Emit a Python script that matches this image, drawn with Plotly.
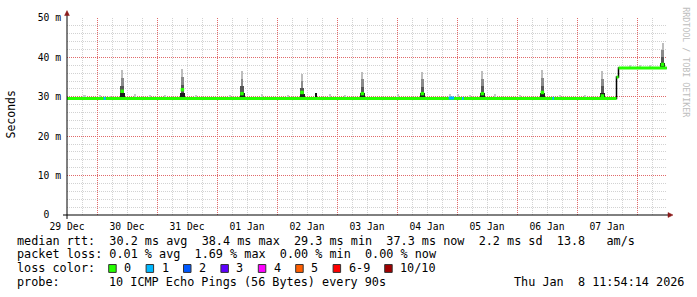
import plotly.graph_objects as go
from datetime import datetime, timedelta

# ---------------- data ----------------
t_start = "2025-12-29 12:00"
t_end = "2026-01-08 12:00"

# x tick labels (centred on noon of each day)
x_label_time = ["2025-12-29 12:00", "2025-12-30 12:00", "2025-12-31 12:00", "2026-01-01 12:00",
                "2026-01-02 12:00", "2026-01-03 12:00", "2026-01-04 12:00", "2026-01-05 12:00",
                "2026-01-06 12:00", "2026-01-07 12:00"]
x_label_text = ["29 Dec", "30 Dec", "31 Dec", "01 Jan", "02 Jan", "03 Jan", "04 Jan", "05 Jan",
                "06 Jan", "07 Jan"]

# median rtt (step series, ms)
median_time = ["2025-12-29 12:00", "2026-01-07 15:48", "2026-01-07 16:36", "2026-01-08 11:54:14"]
median_ms = [29.55, 35.0, 37.3, 37.3]

# daily latency spikes (smoke)
spike_time = ["2025-12-30 10:05", "2025-12-31 10:10", "2026-01-01 10:00", "2026-01-02 10:00",
              "2026-01-03 10:10", "2026-01-04 10:10", "2026-01-05 10:10", "2026-01-06 10:10",
              "2026-01-07 10:10", "2026-01-08 10:12"]
spike_base_ms = [29.5, 29.5, 29.5, 29.5, 29.5, 29.5, 29.5, 29.5, 29.5, 37.3]
spike_top_ms = [36.8, 37.1, 36.5, 35.8, 36.3, 36.3, 36.5, 36.7, 36.5, 43.7]
spike_median_ms = [31.4, 31.8, 30.8, 31.1, 30.8, 30.8, 30.8, 31.1, 30.2, 38.2]

# small dark blip
blip_time = ["2026-01-02 15:40"]
blip_base_ms = [29.5]
blip_top_ms = [31.0]

# light smoke bits just above the median
noise_time = ["2025-12-29 19:00", "2025-12-30 01:06", "2025-12-30 05:06", "2025-12-30 15:06",
              "2025-12-30 21:06", "2025-12-31 03:06", "2025-12-31 15:30", "2026-01-01 05:06",
              "2026-01-01 17:54", "2026-01-02 04:18", "2026-01-02 21:06", "2026-01-03 03:06",
              "2026-01-04 00:18", "2026-01-04 21:06", "2026-01-05 00:18", "2026-01-05 05:06",
              "2026-01-05 15:06", "2026-01-06 01:06", "2026-01-06 17:06", "2026-01-07 03:06",
              "2026-01-07 21:06", "2026-01-08 01:06", "2026-01-08 05:06"]
noise_base_ms = [29.5, 29.5, 29.5, 29.5, 29.5, 29.5, 29.5, 29.5, 29.5, 29.5, 29.5, 29.5,
                 29.5, 29.5, 29.5, 29.5, 29.5, 29.5, 29.5, 29.5, 37.3, 37.3, 37.3]
noise_top_ms = [30.4, 30.5, 30.3, 30.7, 30.4, 30.4, 30.5, 30.4, 30.6, 30.4, 30.7, 30.5,
                30.6, 30.8, 30.7, 30.5, 30.6, 30.4, 30.4, 30.5, 38.1, 38.0, 38.1]

# periods with 1/10 packet loss
loss1_start = ["2025-12-30 02:40", "2026-01-04 20:40", "2026-01-05 02:00", "2026-01-06 14:10"]
loss1_end = ["2025-12-30 03:30", "2026-01-04 22:50", "2026-01-05 02:40", "2026-01-06 14:50"]
loss1_ms = [29.6, 29.7, 29.6, 29.6]

# y axis ticks
y_tickvals = [0, 10, 20, 30, 40, 50]
y_ticktext = ["0\u00a0\u00a0", "10 m", "20 m", "30 m", "40 m", "50 m"]

# legend / stats
rtt_stats = [30.2, 38.4, 29.3, 37.3, 2.2]
rtt_am_s = 13.8
loss_stats = [0.01, 1.69, 0.00, 0.00]
loss_labels = ["0", "1", "2", "3", "4", "5", "6-9", "10/10"]
loss_colors = ["#26ff00", "#00b8ff", "#0059ff", "#5e00ff", "#ff00ff", "#ff5e00", "#ff0000", "#a00000"]
probe_text = "10 ICMP Echo Pings (56 Bytes) every 90s"
stamp_text = "Thu Jan  8 11:54:14 2026"

# ---------------- helpers ----------------
L, R, T, B = 67, 667, 15, 215
W, H = 697, 297


def px_x(px):
    return (px - L) / (R - L)


def px_y(py):
    return (B - py) / (B - T)


def nb(s):
    return s.replace(" ", "\u00a0")


HOUR = 3600 * 1000
MONO = "DejaVu Sans Mono"

# grid positions: major at midnights, minor every 6 h in between
x_major, x_minor = [], []
d0 = datetime(2025, 12, 29)
for day in range(11):
    x_major.append((d0 + timedelta(days=day)).strftime("%Y-%m-%d %H:%M"))
    for hr in (6, 12, 18):
        x_minor.append((d0 + timedelta(days=day, hours=hr)).strftime("%Y-%m-%d %H:%M"))
y_minor = [v for v in range(0, 51, 2) if v % 10 != 0]

fig = go.Figure()

# light smoke bits
fig.add_trace(go.Bar(
    x=noise_time, base=noise_base_ms,
    y=[t - b for t, b in zip(noise_top_ms, noise_base_ms)],
    width=[0.9 * HOUR] * len(noise_time),
    marker=dict(color="#c6c6c6", line=dict(width=0)), hoverinfo="skip"))

# smoke gradient of spikes
layer_frac = [0.0, 0.2, 0.45, 0.72, 1.0]
layer_col = ["#1c1c1c", "#555555", "#8a8a8a", "#bdbdbd"]
layer_w = [2.0, 1.5, 1.1, 0.8]
for k in range(4):
    lo = [b + (t - b) * layer_frac[k] for b, t in zip(spike_base_ms, spike_top_ms)]
    hi = [b + (t - b) * layer_frac[k + 1] for b, t in zip(spike_base_ms, spike_top_ms)]
    fig.add_trace(go.Bar(
        x=spike_time, base=lo, y=[h - l for h, l in zip(hi, lo)],
        width=[layer_w[k] * HOUR] * len(spike_time),
        marker=dict(color=layer_col[k], line=dict(width=0)), hoverinfo="skip"))

fig.add_trace(go.Bar(
    x=blip_time, base=blip_base_ms,
    y=[t - b for t, b in zip(blip_top_ms, blip_base_ms)],
    width=[0.6 * HOUR], marker=dict(color="#111111", line=dict(width=0)), hoverinfo="skip"))

# median: black step (vertical jumps), then green horizontals
fig.add_trace(go.Scatter(x=median_time, y=median_ms, mode="lines",
                         line=dict(color="#000000", width=1.5, shape="hv"), hoverinfo="skip"))
gx, gy = [], []
for i in range(len(median_time) - 1):
    gx += [median_time[i], median_time[i + 1], None]
    gy += [median_ms[i], median_ms[i], None]
fig.add_trace(go.Scatter(x=gx, y=gy, mode="lines",
                         line=dict(color=loss_colors[0], width=3), hoverinfo="skip"))

bx, by = [], []
for s, e, v in zip(loss1_start, loss1_end, loss1_ms):
    bx += [s, e, None]
    by += [v, v, None]
fig.add_trace(go.Scatter(x=bx, y=by, mode="lines",
                         line=dict(color=loss_colors[1], width=3), hoverinfo="skip"))

# spike medians drawn on the label axis (matched to x) so that axis is rendered
fig.add_trace(go.Scatter(x=spike_time, y=spike_median_ms, mode="markers", xaxis="x2",
                         marker=dict(symbol="square", size=3.5, color=loss_colors[0],
                                     line=dict(width=0)), hoverinfo="skip"))

# ---------------- layout ----------------
minor_grid = "#d2d2d2"
major_grid = "#e06a6a"
dash = "1px,1px"

fig.update_layout(
    width=W, height=H,
    margin=dict(l=L, r=W - R, t=T, b=H - B, pad=0),
    paper_bgcolor="white", plot_bgcolor="white",
    showlegend=False, barmode="overlay", bargap=0,
    font=dict(family=MONO, color="#000000"),
    xaxis=dict(
        type="date", range=[t_start, t_end],
        tickmode="array", tickvals=x_major, showticklabels=False, ticks="",
        showgrid=True, gridcolor=major_grid, griddash=dash, gridwidth=1,
        minor=dict(tickmode="array", tickvals=x_minor, showgrid=True,
                   gridcolor=minor_grid, griddash=dash, gridwidth=1),
        showline=False, zeroline=False, fixedrange=True, layer="below traces",
    ),
    xaxis2=dict(
        type="date", matches="x", overlaying="x", anchor="y", side="bottom",
        tickmode="array", tickvals=x_label_time, ticktext=x_label_text,
        ticks="", ticklabelstandoff=4, showgrid=False, zeroline=False, showline=False,
        tickfont=dict(family=MONO, size=9.7, color="#000000"), fixedrange=True,
    ),
    yaxis=dict(
        range=[0, 50], tickmode="array", tickvals=y_tickvals, ticktext=y_ticktext,
        ticks="", ticklabelstandoff=5,
        tickfont=dict(family=MONO, size=9.7, color="#000000"),
        showgrid=True, gridcolor=major_grid, griddash=dash, gridwidth=1,
        minor=dict(tickmode="array", tickvals=y_minor, showgrid=True,
                   gridcolor=minor_grid, griddash=dash, gridwidth=1),
        showline=False, zeroline=False, fixedrange=True,
    ),
)

shapes = []
# axis lines with small overshoot + arrows
shapes.append(dict(type="line", xref="paper", yref="paper",
                   x0=px_x(63), x1=px_x(670), y0=px_y(215), y1=px_y(215),
                   line=dict(color="#000000", width=1)))
shapes.append(dict(type="line", xref="paper", yref="paper",
                   x0=px_x(67), x1=px_x(67), y0=px_y(219), y1=px_y(11),
                   line=dict(color="#000000", width=1)))
arrow_col = "#8b1a1a"
shapes.append(dict(type="path", xref="paper", yref="paper",
                   path=f"M {px_x(64.6)} {px_y(12.5)} L {px_x(69.4)} {px_y(12.5)} L {px_x(67)} {px_y(7.5)} Z",
                   fillcolor=arrow_col, line=dict(color=arrow_col, width=0.5)))
shapes.append(dict(type="path", xref="paper", yref="paper",
                   path=f"M {px_x(668)} {px_y(212.5)} L {px_x(668)} {px_y(217.5)} L {px_x(673)} {px_y(215)} Z",
                   fillcolor=arrow_col, line=dict(color=arrow_col, width=0.5)))

annotations = []


def text(px, py, s, size=11.8, anchor="left", color="#000000", angle=0, yanchor="middle"):
    annotations.append(dict(
        xref="paper", yref="paper", x=px_x(px), y=px_y(py), text=nb(s),
        showarrow=False, xanchor=anchor, yanchor=yanchor, textangle=angle,
        font=dict(family=MONO, size=size, color=color), borderpad=0))


# y axis title
text(11, 113, "Seconds", size=11.5, anchor="center", angle=-90)
# watermark
text(686, 60, "RRDTOOL / TOBI OETIKER", size=8.3, anchor="center", angle=90, color="#bdbdbd")

line1 = ("median rtt:  " + "  ".join(f"{v:.1f} ms {n}" for v, n in
                                      zip(rtt_stats, ["avg", "max", "min", "now", "sd"]))
         + f"  {rtt_am_s:.1f}   am/s")
line2 = "packet loss: " + "  ".join(f"{v:.2f} % {n}" for v, n in
                                    zip(loss_stats, ["avg", "max", "min", "now"]))
text(16, 241, line1)
text(16, 255, line2)
text(16, 269, "loss color:")
text(16, 283.3, "probe:")
text(107.5, 283.3, probe_text)
text(513, 283.3, stamp_text)

# loss colour legend boxes
pos = 108.7
for lab, col in zip(loss_labels, loss_colors):
    shapes.append(dict(type="rect", xref="paper", yref="paper",
                       x0=px_x(pos), x1=px_x(pos + 7.5), y0=px_y(273.3), y1=px_y(265.3),
                       fillcolor=col, line=dict(color="#333333", width=1)))
    text(pos + 14.6, 269, lab)
    pos = pos + 14.6 + len(lab) * 7.1 + 15.7

fig.update_layout(shapes=shapes, annotations=annotations)

fig.write_html("out.html")
